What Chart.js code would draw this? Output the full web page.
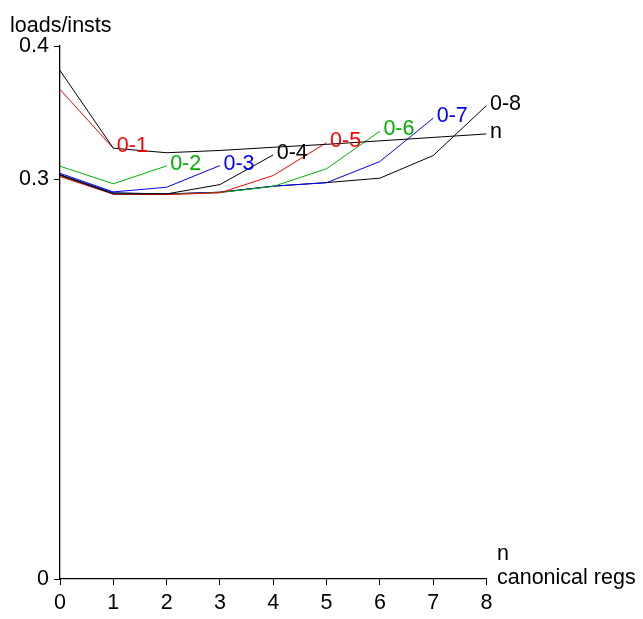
<!DOCTYPE html>
<html>
<head>
<meta charset="utf-8">
<script src="https://cdn.jsdelivr.net/npm/chart.js@4/dist/chart.umd.min.js"></script>
<style>
  html, body { margin: 0; padding: 0; background: #fff; }
  #wrap { width: 643px; height: 619px; }
</style>
</head>
<body>
<div id="wrap"><canvas id="c" width="643" height="619"></canvas></div>
<script>
// Number of canonical registers (x axis)
const regs = [0, 1, 2, 3, 4, 5, 6, 7, 8];
// Y tick positions
const yTicks = [0, 0.3, 0.4];

// loads per instruction for each register range
const seriesNames = ['n', '0-1', '0-2', '0-3', '0-4', '0-5', '0-6', '0-7', '0-8'];
const seriesColors = ['#000000', '#ff0000', '#00b000', '#0000ff', '#000000', '#ff0000', '#00b000', '#0000ff', '#000000'];
const nVals  = [0.3816, 0.3233, 0.3199, 0.3216, 0.3240, 0.3262, 0.3288, 0.3314, 0.3340];
const r01 = [0.3674, 0.3233];
const r02 = [0.3098, 0.2966, 0.3100];
const r03 = [0.3045, 0.2905, 0.2940, 0.3103];
const r04 = [0.3032, 0.2890, 0.2890, 0.2960, 0.3183];
const r05 = [0.3020, 0.2888, 0.2885, 0.2898, 0.3028, 0.3275];
const r06 = [0.3025, 0.2892, 0.2887, 0.2900, 0.2946, 0.3079, 0.3360];
const r07 = [0.3030, 0.2896, 0.2889, 0.2902, 0.2948, 0.2974, 0.3133, 0.3458];
const r08 = [0.3035, 0.2898, 0.2890, 0.2903, 0.2948, 0.2975, 0.3008, 0.3178, 0.3553];
const seriesValues = [nVals, r01, r02, r03, r04, r05, r06, r07, r08];

const FONT = '"Liberation Sans", Arial, Helvetica, sans-serif';
const FSIZE = 21.5;

const datasets = seriesValues.map((vals, i) => ({
  label: seriesNames[i],
  data: vals.map((v, j) => ({ x: regs[j], y: v })),
  borderColor: seriesColors[i],
  backgroundColor: seriesColors[i],
  borderWidth: 1,
  pointRadius: 0,
  fill: false,
  tension: 0
}));

// Writes each series name just past its last point, plus the axis titles
const endLabels = {
  id: 'endLabels',
  afterDraw(chart) {
    const ctx = chart.ctx;
    ctx.save();
    ctx.font = FSIZE + 'px ' + FONT;
    ctx.textAlign = 'left';
    ctx.textBaseline = 'alphabetic';
    chart.data.datasets.forEach((ds, i) => {
      const meta = chart.getDatasetMeta(i);
      const last = meta.data[meta.data.length - 1];
      ctx.fillStyle = ds.borderColor;
      ctx.fillText(ds.label, last.x + 3.5, last.y + 4);
    });
    ctx.fillStyle = '#000';
    const xs = chart.scales.x, ys = chart.scales.y;
    ctx.fillText('loads/insts', 10, 31.5);
    ctx.fillText('n', xs.right + 10.5, 560);
    ctx.fillText('canonical regs', xs.right + 10.5, ys.bottom + 5);
    ctx.restore();
  }
};

new Chart(document.getElementById('c'), {
  type: 'line',
  data: { datasets },
  options: {
    responsive: false,
    devicePixelRatio: 1,
    animation: false,
    events: [],
    layout: { padding: { left: 0, top: 46, right: 156.5, bottom: 0 } },
    plugins: { legend: { display: false }, tooltip: { enabled: false } },
    scales: {
      x: {
        type: 'linear',
        min: 0, max: 8,
        afterFit(s) { s.height = 40; },
        ticks: {
          stepSize: 1,
          color: '#000',
          padding: 5,
          maxRotation: 0,
          font: { family: FONT, size: FSIZE, lineHeight: 1.2 }
        },
        grid: { drawOnChartArea: false, drawTicks: true, tickLength: 6, color: '#000', lineWidth: 1 },
        border: { display: true, color: '#000', width: 1.3 }
      },
      y: {
        type: 'linear',
        min: 0, max: 0.4,
        afterFit(s) { s.width = 60; },
        afterBuildTicks(s) { s.ticks = yTicks.map(v => ({ value: v })); },
        ticks: {
          color: '#000',
          padding: 5,
          font: { family: FONT, size: FSIZE },
          callback: v => String(v)
        },
        grid: { drawOnChartArea: false, drawTicks: true, tickLength: 6, color: '#000', lineWidth: 1 },
        border: { display: true, color: '#000', width: 1.3 }
      }
    }
  },
  plugins: [endLabels]
});
</script>
</body>
</html>
